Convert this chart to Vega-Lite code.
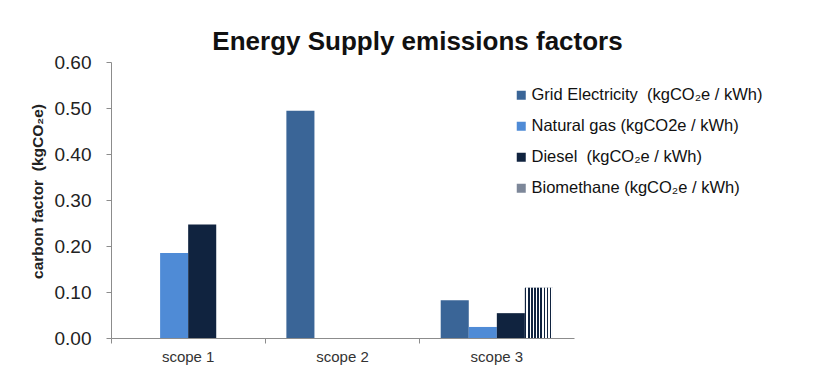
{
  "$schema": "https://vega.github.io/schema/vega-lite/v6.json",
  "autosize": {"type": "none"},
  "width": 463,
  "height": 276,
  "padding": {"left": 111, "top": 62, "right": 239, "bottom": 31},
  "background": "white",
  "title": {"text": "Energy Supply emissions factors", "font": "Liberation Sans", "fontSize": 26, "fontWeight": "bold", "color": "#111111", "dx": 75, "offset": -2},
  "config": {"view": {"stroke": null}, "font": "Liberation Sans"},
  "data": {"values": [
    {"scope": "scope 1", "fuel": "Natural gas (kgCO2e / kWh)", "factor": 0.185},
    {"scope": "scope 1", "fuel": "Diesel  (kgCO₂e / kWh)", "factor": 0.247},
    {"scope": "scope 2", "fuel": "Grid Electricity  (kgCO₂e / kWh)", "factor": 0.494},
    {"scope": "scope 3", "fuel": "Grid Electricity  (kgCO₂e / kWh)", "factor": 0.082},
    {"scope": "scope 3", "fuel": "Natural gas (kgCO2e / kWh)", "factor": 0.024},
    {"scope": "scope 3", "fuel": "Diesel  (kgCO₂e / kWh)", "factor": 0.054},
    {"scope": "scope 3", "fuel": "Biomethane (kgCO₂e / kWh)", "factor": 0.109}
  ]},
  "encoding": {
    "x": {"field": "scope", "type": "nominal", "scale": {"paddingInner": 0, "paddingOuter": 0},
      "axis": {"title": null, "labelAngle": 0, "bandPosition": 0, "labelFontSize": 15, "labelColor": "#333333", "labelPadding": 6, "tickSize": 5, "tickColor": "#8c8c8c", "domainColor": "#8c8c8c", "labelFont": "Liberation Sans"}},
    "xOffset": {"field": "fuel", "type": "nominal", "scale": {"domain": ["Grid Electricity  (kgCO₂e / kWh)", "Natural gas (kgCO2e / kWh)", "Diesel  (kgCO₂e / kWh)", "Biomethane (kgCO₂e / kWh)"], "paddingInner": 0, "paddingOuter": 0.75}},
    "y": {"field": "factor", "type": "quantitative", "scale": {"domain": [0, 0.6], "nice": false},
      "axis": {"title": "carbon factor \u00a0(kgCO₂e)", "titleFontSize": 15.5, "titleFontWeight": "bold", "titleColor": "#222222", "titleX": -74, "titleY": 129, "titleAlign": "center", "titleBaseline": "middle", "values": [0, 0.1, 0.2, 0.3, 0.4, 0.5, 0.6], "format": ".2f", "grid": false, "labelFontSize": 19, "labelColor": "#222222", "labelPadding": 15, "tickSize": 5, "tickColor": "#8c8c8c", "domainColor": "#8c8c8c"}}
  },
  "layer": [
    {
      "mark": {"type": "bar"},
      "encoding": {
        "color": {"field": "fuel", "type": "nominal",
          "scale": {"domain": ["Grid Electricity  (kgCO₂e / kWh)", "Natural gas (kgCO2e / kWh)", "Diesel  (kgCO₂e / kWh)", "Biomethane (kgCO₂e / kWh)"],
            "range": ["#3a6597", "#4f8bd6", "#10233f", "#7d8799"]},
          "legend": {"title": null, "orient": "none", "legendX": 402, "legendY": 25, "symbolType": "square", "symbolSize": 81, "symbolStrokeWidth": 0, "labelFontSize": 16.5, "labelColor": "#111111", "labelLimit": 0, "rowPadding": 14, "labelOffset": 2, "labelExpr": "replace(datum.label, '  ', '\u00a0 ')"}}
      }
    },
    {
      "transform": [{"filter": "datum.fuel === 'Biomethane (kgCO₂e / kWh)'"}],
      "mark": {"type": "bar", "fill": {"gradient": "linear", "x1": 0, "y1": 0, "x2": 1, "y2": 0, "stops": [
          {"offset": 0, "color": "#10233f"}, {"offset": 0.055, "color": "#10233f"}, {"offset": 0.055, "color": "#ffffff"}, {"offset": 0.111, "color": "#ffffff"},
          {"offset": 0.111, "color": "#10233f"}, {"offset": 0.166, "color": "#10233f"}, {"offset": 0.166, "color": "#ffffff"}, {"offset": 0.222, "color": "#ffffff"},
          {"offset": 0.222, "color": "#10233f"}, {"offset": 0.277, "color": "#10233f"}, {"offset": 0.277, "color": "#ffffff"}, {"offset": 0.333, "color": "#ffffff"},
          {"offset": 0.333, "color": "#10233f"}, {"offset": 0.388, "color": "#10233f"}, {"offset": 0.388, "color": "#ffffff"}, {"offset": 0.444, "color": "#ffffff"},
          {"offset": 0.444, "color": "#10233f"}, {"offset": 0.5, "color": "#10233f"}, {"offset": 0.5, "color": "#ffffff"}, {"offset": 0.555, "color": "#ffffff"},
          {"offset": 0.555, "color": "#10233f"}, {"offset": 0.611, "color": "#10233f"}, {"offset": 0.611, "color": "#ffffff"}, {"offset": 0.666, "color": "#ffffff"},
          {"offset": 0.666, "color": "#10233f"}, {"offset": 0.722, "color": "#10233f"}, {"offset": 0.722, "color": "#ffffff"}, {"offset": 0.777, "color": "#ffffff"},
          {"offset": 0.777, "color": "#10233f"}, {"offset": 0.833, "color": "#10233f"}, {"offset": 0.833, "color": "#ffffff"}, {"offset": 0.888, "color": "#ffffff"},
          {"offset": 0.888, "color": "#10233f"}, {"offset": 0.944, "color": "#10233f"}, {"offset": 0.944, "color": "#ffffff"}, {"offset": 1, "color": "#ffffff"}
        ]}}
    }
  ]
}
